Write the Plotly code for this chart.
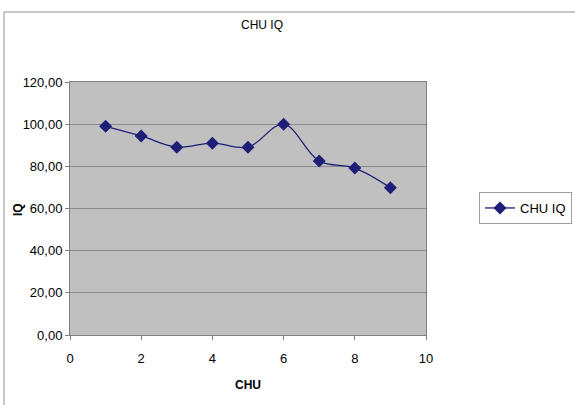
import plotly.graph_objects as go

chu = [1, 2, 3, 4, 5, 6, 7, 8, 9]
iq = [99.0, 94.4, 89.1, 91.0, 89.1, 100.0, 82.5, 79.2, 69.9]
series_name = "CHU IQ"
y_ticks = [0, 20, 40, 60, 80, 100, 120]
x_ticks = [0, 2, 4, 6, 8, 10]

W, H = 575, 405
L, R, T, B = 70, 426, 82, 335
pw, ph = R - L, B - T

def px(x):
    return (x - L) / pw

def py(y):
    return (B - y) / ph

fig = go.Figure()
fig.add_trace(go.Scatter(
    x=chu, y=iq, name=series_name, mode="lines+markers",
    line=dict(color="#1f1f78", width=1.3, shape="spline", smoothing=1),
    marker=dict(symbol="diamond", size=10, color="#1f1f78"),
    showlegend=True,
))

font = "Liberation Sans, Arial, sans-serif"
fig.update_layout(
    width=W, height=H,
    margin=dict(l=L, r=W - R, t=T, b=H - B, autoexpand=False),
    paper_bgcolor="white",
    plot_bgcolor="#c0c0c0",
    separators=", ",
    font=dict(family=font, size=13, color="black"),
    showlegend=True,
    legend=dict(
        x=px(479), y=py(208), xanchor="left", yanchor="middle",
        bordercolor="#a0a0a0", borderwidth=1, bgcolor="white",
        font=dict(size=13), itemwidth=30,
    ),
    xaxis=dict(
        range=[0, 10], tickvals=x_ticks, ticks="outside", ticklen=4,
        tickcolor="#808080", showgrid=False, zeroline=False,
        showline=True, linecolor="#808080", mirror=True,
        tickfont=dict(size=13), automargin=False, ticklabelstandoff=7,
    ),
    yaxis=dict(
        range=[0, 120], tickvals=y_ticks, tickformat=".2f", ticks="outside",
        ticklen=4, tickcolor="#808080", showgrid=True, gridcolor="#8a8a8a",
        gridwidth=1, zeroline=False, showline=True, linecolor="#808080",
        mirror=True, tickfont=dict(size=13), automargin=False,
    ),
    annotations=[
        dict(text="CHU IQ", x=px(262), y=py(25), xref="paper", yref="paper",
             showarrow=False, font=dict(size=12), xanchor="center", yanchor="middle"),
        dict(text="<b>CHU</b>", x=px(248), y=py(385), xref="paper", yref="paper",
             showarrow=False, font=dict(size=12), xanchor="center", yanchor="middle"),
        dict(text="<b>IQ</b>", x=px(18), y=py(210), xref="paper", yref="paper",
             showarrow=False, font=dict(size=12), xanchor="center", yanchor="middle",
             textangle=-90),
    ],
    shapes=[dict(
        type="rect", xref="paper", yref="paper",
        x0=px(4), x1=px(590), y0=py(420), y1=py(12),
        line=dict(color="#909090", width=1), fillcolor="rgba(0,0,0,0)",
        layer="below",
    )],
)

fig.write_html(
    "out.html",
    config={"displayModeBar": False},
    post_script="document.body.style.margin='0';document.body.style.overflow='hidden';",
)
